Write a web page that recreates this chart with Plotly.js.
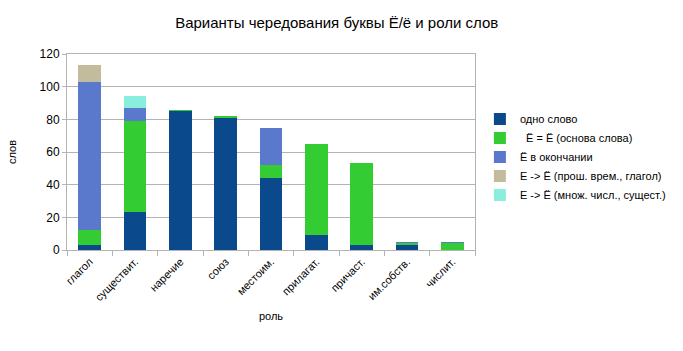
<!DOCTYPE html>
<html>
<head>
<meta charset="utf-8">
<script src="https://cdn.plot.ly/plotly-3.0.1.min.js"></script>
<style>html,body{margin:0;padding:0;background:#fff;}#chart{width:683px;height:351px;}</style>
</head>
<body>
<div id="chart"></div>
<script>
const categories = ["глагол", "существит.", "наречие", "союз", "местоим.", "прилагат.", "причаст.", "им.собств.", "числит."];
const seriesNames = ["одно слово", "  Ё = Ё (основа слова)", "Ё в окончании", "Е -> Ё (прош. врем., глагол)", "Е -> Ё (множ. числ., сущест.)"];
const oneWord      = [3, 23, 85, 81, 44, 9, 3, 3, 0];
const stemSame     = [9, 56, 1, 1, 8, 56, 50, 1, 4];
const ending       = [91, 8, 0, 0, 23, 0, 0, 1, 1];
const pastVerb     = [10, 0, 0, 0, 0, 0, 0, 0, 0];
const pluralNoun   = [0, 7, 0, 0, 0, 0, 0, 0, 0];
const colors = ["#0a4a8c", "#33cc33", "#5a78cc", "#c2bc9c", "#8aeedd"];
const values = [oneWord, stemSame, ending, pastVerb, pluralNoun];

const traces = values.map((v, i) => ({
  type: "bar",
  name: seriesNames[i],
  x: categories,
  y: v,
  marker: {color: colors[i], line: {width: 0}},
  hoverinfo: "x+y+name"
}));

const layout = {
  width: 683, height: 351,
  margin: {l: 67, r: 205, t: 54, b: 101},
  barmode: "stack",
  bargap: 0.5,
  paper_bgcolor: "#ffffff",
  plot_bgcolor: "#ffffff",
  font: {family: "Liberation Sans, Arial, sans-serif", size: 11, color: "#000"},
  title: {text: "Варианты чередования буквы Ё/ё и роли слов", x: 0.493, xanchor: "center", y: 0.935, yanchor: "middle", font: {size: 15, color: "#000"}},
  xaxis: {
    type: "category",
    tickangle: -45,
    ticks: "outside", ticklen: 5, tickcolor: "#b3b3b3",
    tickson: "boundaries",
    showline: true, linecolor: "#b3b3b3", mirror: true,
    showgrid: false,
    title: {text: "роль", font: {size: 11}, standoff: 10},
    tickfont: {size: 11}
  },
  yaxis: {
    range: [0, 120], dtick: 20,
    ticks: "outside", ticklen: 4, tickcolor: "#b3b3b3",
    showline: true, linecolor: "#b3b3b3", mirror: true,
    gridcolor: "#b3b3b3",
    zeroline: false,
    title: {text: "слов", font: {size: 11}, standoff: 20},
    tickfont: {size: 12}
  },
  legend: {
    x: 1.012, xanchor: "left", y: 0.475, yanchor: "middle",
    font: {size: 11},
    traceorder: "normal",
    itemwidth: 30,
    tracegroupgap: 0
  },
  showlegend: true
};

Plotly.newPlot("chart", traces, layout, {displayModeBar: false, staticPlot: true});
</script>
</body>
</html>
